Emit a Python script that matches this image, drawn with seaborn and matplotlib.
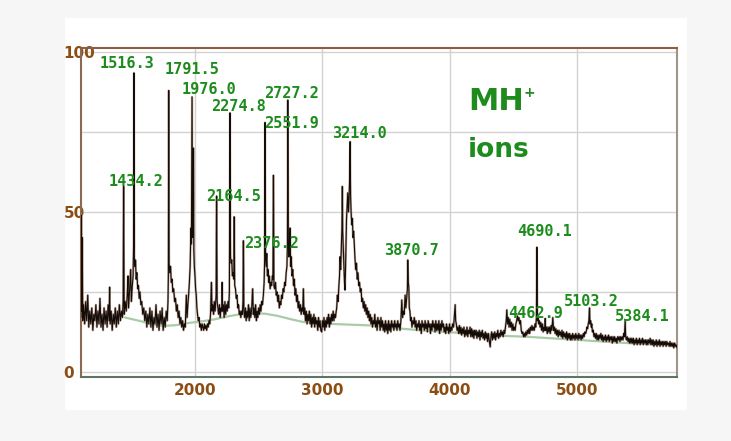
import matplotlib
matplotlib.use("Agg")
import matplotlib.pyplot as plt
from matplotlib.patches import Rectangle
import seaborn as sns
import pandas as pd

# ---------------- data ----------------
# (m/z, relative intensity) trace of the spectrum
spectrum = [
(1105,17),(1108,49),(1111,19),(1115,42),(1119,16),(1126,21),(1134,15),(1142,22),(1150,16),(1158,24),
(1166,14),(1174,19),(1182,15),(1190,20),(1198,13),(1206,18),(1214,16),(1222,21),(1230,14),(1238,19),
(1246,15),(1254,23),(1262,14),(1270,18),(1278,13),(1286,20),(1294,15),(1302,19),(1310,14),(1318,21),
(1326,16),(1330,26.5),(1334,15),(1342,19),(1350,13),(1358,18),(1366,15),(1374,20),(1382,14),(1390,19),
(1398,15),(1406,21),(1414,16),(1422,19),(1430,17),(1436,22),(1440,58),(1444,18),(1452,22),(1460,19),
(1468,24),(1474,30),(1478,20),(1486,25),(1495,32),(1500,22),(1508,27),(1514,30),(1518,40),(1521,93.5),
(1524,36),(1528,33),(1533,35),(1538,29),(1544,31),(1550,26),(1556,27),(1562,23),(1568,25),(1575,21),
(1582,22),(1590,18),(1598,20),(1606,16),(1614,19),(1622,14),(1630,18),(1638,15),(1646,20),(1654,14),
(1662,19),(1670,13),(1678,17),(1686,15),(1694,21),(1702,14),(1710,18),(1718,13),(1726,19),(1734,15),
(1742,20),(1750,13),(1758,17),(1766,14),(1774,19),(1782,16),(1788,22),(1791,30),(1794,88),(1797,34),
(1802,31),(1808,33),(1814,28),(1820,29),(1826,25),(1833,26),(1840,22),(1847,23),(1854,19),(1861,21),
(1868,17),(1875,19),(1882,15),(1889,17),(1896,14),(1903,16),(1910,13),(1917,15),(1924,14),(1932,24),
(1938,17),(1944,21),(1950,24),(1956,28),(1962,33),(1968,45),(1972,40),(1977,86),(1981,42),(1985,50),
(1988,70),(1991,38),(1995,33),(2000,30),(2005,26),(2010,24),(2015,20),(2020,18),(2026,16),(2032,17),
(2038,14),(2044,15),(2050,13),(2056,15),(2062,14),(2068,13),(2074,15),(2080,13.5),(2086,14.5),(2092,13),
(2098,15),(2104,14),(2110,16),(2116,15),(2122,18),(2129,28),(2134,19),(2140,21),(2146,18),(2152,22),
(2158,19),(2166,24),(2170,55),(2174,22),(2180,20),(2186,18),(2192,21),(2198,17),(2204,20),(2210,19),
(2213,28),(2217,19),(2223,21),(2229,17),(2235,22),(2241,18),(2247,21),(2253,19),(2259,22),(2265,20),
(2270,25),(2275,81),(2279,36),(2284,34),(2289,35),(2294,30),(2300,31),(2305,29),(2308,48.5),(2312,27),
(2318,26),(2324,23),(2330,24),(2336,20),(2342,21),(2348,18),(2354,19),(2360,17),(2366,19),(2372,18),
(2377,22),(2380,41),(2384,19),(2390,17),(2396,20),(2402,16),(2408,19),(2414,17),(2420,21),(2426,16),
(2432,20),(2438,17),(2444,19),(2453,26),(2458,18),(2464,20),(2470,17),(2476,21),(2482,16),(2488,19),
(2494,17),(2500,20),(2506,18),(2512,21),(2518,19),(2524,22),(2530,21),(2537,24),(2543,28),(2547,35),
(2550,78),(2554,36),(2559,33),(2564,37),(2569,30),(2574,32),(2579,28),(2584,30),(2590,26),(2596,28),
(2602,27),(2608,30),(2612,29),(2616,61.5),(2620,27),(2626,26),(2632,28),(2638,24),(2644,25),(2650,22),
(2656,24),(2662,20),(2668,22),(2674,21),(2680,24),(2686,23),(2692,26),(2698,25),(2704,28),(2710,27),
(2716,31),(2722,33),(2726,40),(2729,85),(2733,42),(2738,36),(2743,40),(2747,45),(2751,33),(2756,36),
(2762,30),(2768,32),(2774,27),(2780,29),(2786,24),(2792,26),(2798,22),(2804,24),(2810,20),(2816,22),
(2822,19),(2828,21),(2834,18),(2840,20),(2846,19),(2851,26),(2856,18),(2862,20),(2868,16),(2874,19),
(2880,15),(2886,18),(2892,16),(2898,19),(2904,15),(2910,18),(2916,14),(2922,17),(2928,15),(2934,18),
(2940,14),(2946,17),(2952,15),(2958,16),(2964,13),(2970,17),(2976,14),(2982,16),(2988,13),(2995,12.5),
(3001,16),(3007,14),(3013,17),(3019,13),(3025,16),(3031,14),(3037,17),(3043,15),(3049,18),(3055,14),
(3061,17),(3067,15),(3073,18),(3079,16),(3085,19),(3091,16),(3097,18),(3103,17),(3109,19),(3113,20),
(3118,24),(3124,22),(3130,27),(3135,30),(3139,36),(3144,32),(3150,40),(3154,45),(3157,58),(3160,44),
(3165,38),(3170,33),(3174,28),(3178,25.6),(3182,32),(3186,40),(3190,48),(3195,52),(3200,56),(3205,50),
(3210,54),(3214,60),(3218,72),(3222,55),(3226,50),(3231,46),(3236,48),(3241,42),(3246,44),(3251,40),
(3257,35),(3262,32),(3268,34),(3274,29),(3280,31),(3286,27),(3292,28),(3298,25),(3304,26),(3310,22),
(3316,23),(3322,20),(3328,22),(3334,19),(3340,21),(3346,18),(3352,20),(3358,17),(3364,19),(3370,16),
(3376,18),(3382,15),(3388,17),(3394,14),(3400,16),(3406,15),(3412,18),(3418,14),(3424,16),(3430,13),
(3436,17),(3442,15),(3448,16),(3454,13),(3460,17),(3466,14),(3472,16),(3478,13),(3484,15),(3490,12.5),
(3496,16),(3502,13),(3508,15),(3514,12),(3520,16),(3526,13),(3532,15),(3538,12.5),(3544,16),(3550,14),
(3556,15),(3562,13),(3568,16),(3574,14),(3580,15),(3586,13),(3592,16),(3598,14),(3604,15),(3610,13),
(3617,16),(3624,22.5),(3630,17),(3637,19),(3643,18),(3650,24),(3656,20),(3662,23),(3668,26),(3671,35),
(3675,28),(3679,26.6),(3683,20),(3688,19),(3693,16),(3698,17),(3704,14),(3710,16),(3716,15),(3722,17),
(3729,14),(3735,16),(3741,13),(3747,15),(3753,14),(3759,16),(3765,13),(3771,15),(3777,12),(3783,16),
(3789,14),(3795,15),(3801,13),(3807,16),(3813,13.5),(3819,15),(3825,12.5),(3831,16),(3837,14),(3843,15),
(3849,12),(3855,15),(3861,13),(3867,16),(3873,14),(3879,15),(3885,12.5),(3891,16),(3897,13),(3903,15),
(3909,13),(3915,16),(3921,12),(3927,15),(3933,13),(3939,16),(3945,14),(3951,15),(3957,12.5),(3963,14),
(3969,12),(3975,15),(3981,13),(3987,14),(3993,12),(3999,15),(4005,12.5),(4011,14),(4017,13),(4023,15),
(4030,14),(4036,17),(4043,21),(4047,16),(4052,15),(4058,13),(4064,14),(4070,12),(4076,14.5),(4082,12),
(4088,14),(4094,11.5),(4100,13.5),(4106,12),(4112,14),(4118,11),(4124,13),(4130,11.5),(4136,14),(4142,11),
(4148,13),(4154,12),(4160,14),(4166,11),(4172,13.5),(4178,11),(4184,13),(4190,10.5),(4196,13),(4202,11.5),
(4208,13),(4214,10.5),(4220,12.5),(4226,11),(4232,13),(4238,10),(4244,12.5),(4250,11),(4256,13),(4262,10.5),
(4268,12),(4274,10),(4280,12.5),(4286,10.5),(4292,12),(4298,9.5),(4304,12),(4310,10),(4318,7.8),(4324,11),
(4330,12.5),(4336,10),(4342,12),(4348,10.5),(4354,12.5),(4360,10),(4366,12),(4372,11),(4378,13),(4384,10.5),
(4390,12),(4396,11),(4402,13),(4408,11.5),(4414,12.5),(4420,11),(4426,13),(4432,12),(4438,14),(4444,16),
(4449,19.4),(4454,15),(4460,17),(4466,14),(4472,16.5),(4478,14),(4484,15.5),(4490,13),(4496,15),(4502,13),
(4508,14),(4514,13),(4520,15),(4526,16),(4532,17.5),(4538,16),(4544,17),(4550,15),(4556,16),(4562,13),
(4568,12),(4574,12.5),(4580,11),(4586,12),(4592,11),(4598,12.5),(4604,11.5),(4610,13),(4616,12),(4622,13.5),
(4628,12),(4634,14),(4640,13),(4646,14.5),(4652,13),(4658,14),(4664,13),(4670,15),(4676,14),(4681,17),
(4685,39),(4689,16),(4694,17),(4699,15),(4704,16),(4710,14),(4716,15.5),(4722,13),(4728,15),(4734,12.5),
(4740,14),(4746,13),(4750,16.7),(4754,13),(4760,14),(4766,12),(4772,14),(4778,12.5),(4784,14),(4790,12),
(4796,14.5),(4802,13),(4810,17),(4816,13),(4822,14),(4828,12),(4834,13.5),(4840,11.5),(4846,13),(4852,11),
(4858,13),(4864,11.5),(4870,12.5),(4876,11),(4882,13),(4888,10.5),(4894,12.5),(4900,11),(4906,12),(4912,10.5),
(4918,12.5),(4924,10),(4930,12),(4936,10.5),(4942,12),(4948,10),(4954,11.5),(4960,10),(4966,12),(4972,10.5),
(4978,11.5),(4984,10),(4990,12),(4996,10.5),(5002,11.5),(5008,10),(5014,12),(5020,10.5),(5026,11.5),(5032,10),
(5038,11.5),(5044,10.5),(5050,12),(5056,11),(5062,12.5),(5068,12),(5074,13),(5078,14),(5083,13.5),(5088,15),
(5093,16),(5098,20),(5102,15),(5107,16),(5112,14),(5116,15),(5121,12.5),(5127,13),(5133,11),(5139,12),
(5145,10.5),(5151,12),(5157,10),(5163,11.5),(5169,10),(5175,11.5),(5181,10.5),(5187,12),(5193,10),(5199,11.5),
(5205,9.5),(5211,11),(5217,10),(5223,11.5),(5229,9.5),(5235,11),(5241,10),(5247,11.5),(5253,9.5),(5259,11),
(5265,10),(5271,11),(5277,9),(5283,11),(5289,9.5),(5295,11),(5301,9.5),(5307,10.5),(5313,9),(5319,11),
(5325,10),(5331,11),(5337,9.5),(5343,11),(5349,10),(5355,11),(5361,10),(5367,12),(5372,11),(5378,16),
(5382,11),(5388,10),(5394,11),(5400,9.5),(5406,10.5),(5412,9),(5418,10.5),(5424,9),(5430,10.5),(5436,9),
(5442,10.5),(5448,8.5),(5454,10),(5460,9),(5466,10.5),(5472,8.5),(5478,10),(5484,9),(5490,10.5),(5496,8.5),
(5502,10),(5508,9),(5514,10.5),(5520,8.5),(5526,10),(5532,9),(5538,10),(5544,8.5),(5550,10),(5556,8.5),
(5562,10),(5568,9),(5574,10.5),(5580,8.5),(5586,10),(5592,8.5),(5598,10),(5604,8),(5610,9.5),(5616,8.5),
(5622,10),(5628,8),(5634,9.5),(5640,8.5),(5646,10),(5652,8),(5658,9.5),(5664,8.5),(5670,9.5),(5676,8),
(5682,9.5),(5688,8.5),(5694,9.5),(5700,8),(5706,9.5),(5712,8.5),(5718,9),(5724,8),(5730,9.5),(5736,8),
(5742,9),(5748,8),(5754,9),(5760,7.5),(5766,9),(5772,8),(5778,8.5),(5785,7.5),
]

# fitted baseline (light green curve)
baseline_mz = [1450, 1560, 1650, 1750, 1850, 1950, 2050, 2150, 2250, 2350, 2450, 2550,
               2650, 2750, 2850, 3000, 3200, 3400, 3600, 3800, 4000, 4200, 4400, 4600,
               4800, 5000, 5200, 5400, 5600, 5785]
baseline_int = [17.0, 16.0, 15.0, 14.4, 14.6, 15.3, 15.8, 16.4, 17.3, 18.0, 18.4, 18.2,
                17.5, 16.5, 15.6, 15.1, 14.8, 14.5, 13.6, 12.9, 12.4, 11.9, 11.3, 11.0,
                10.5, 10.0, 9.5, 9.0, 8.6, 8.2]

# peak labels and where they sit (data coordinates)
peak_labels = ["1516.3", "1791.5", "1976.0", "2274.8", "2727.2", "2551.9", "3214.0",
               "1434.2", "2164.5", "2376.2", "3870.7", "4690.1", "4462.9", "5103.2", "5384.1"]
label_mz = [1470, 1977, 2110, 2338, 2755, 2755, 3289,
            1537, 2299, 2597, 3697, 4742, 4671, 5111, 5512]
label_int = [96.3, 94.7, 88.4, 83.1, 87.2, 77.8, 74.7,
             59.7, 54.7, 40.3, 38.1, 43.8, 18.4, 21.9, 17.2]

x_ticks = [2000, 3000, 4000, 5000]
y_ticks = [0, 50, 100]

# ---------------- styling ----------------
GREEN = "#1d8c1d"
BROWN = "#8a4e14"

sns.set_style("white")
plt.rcParams["font.family"] = ["DejaVu Sans"]

fig = plt.figure(figsize=(7.31, 4.41), dpi=100)
fig.patch.set_facecolor("#f6f6f6")
fig.patches.append(Rectangle((65 / 731, 1 - 410 / 441), (687 - 65) / 731, (410 - 18) / 441,
                             transform=fig.transFigure, facecolor="white",
                             edgecolor="none", zorder=-10))

ax = fig.add_axes([81 / 731, 1 - 377 / 441, 596 / 731, 329 / 441])
ax.set_zorder(5)
ax.set_facecolor("white")

spec_df = pd.DataFrame({"mz": [p[0] for p in spectrum],
                        "intensity": [p[1] for p in spectrum]})
base_df = pd.DataFrame({"mz": baseline_mz, "intensity": baseline_int})

sns.lineplot(data=base_df, x="mz", y="intensity", ax=ax, color="#a8cca8",
             linewidth=1.6, estimator=None, sort=False, zorder=2)
sns.lineplot(data=spec_df, x="mz", y="intensity", ax=ax, color="#b39886",
             linewidth=1.6, estimator=None, sort=False, zorder=3, alpha=0.8)
sns.lineplot(data=spec_df, x="mz", y="intensity", ax=ax, color="#140c08",
             linewidth=0.8, estimator=None, sort=False, zorder=4)

ax.set_xlim(1105, 5785)
ax.set_ylim(-1.6, 101.3)

ax.set_xticks(x_ticks)
ax.set_yticks(y_ticks)
ax.set_yticks([25, 75], minor=True)
ax.grid(True, which="both", color="#d2d2d2", linewidth=1.0, zorder=1)
ax.set_axisbelow(True)

ax.tick_params(axis="both", which="both", length=0)
ax.tick_params(axis="x", pad=4.5)
ax.tick_params(axis="y", pad=12.5)
for lab in ax.get_xticklabels() + ax.get_yticklabels():
    lab.set_color(BROWN)
    lab.set_fontweight("bold")
    lab.set_fontsize(11)
for lab in ax.get_yticklabels():
    lab.set_horizontalalignment("left")

ax.set_xlabel("")
ax.set_ylabel("")

ax.spines["top"].set_color("#8c5e44")
ax.spines["left"].set_color("#8c6a52")
ax.spines["right"].set_color("#a09488")
ax.spines["bottom"].set_color("#5e7464")
for s in ax.spines.values():
    s.set_linewidth(1.5)
    s.set_visible(True)

for txt, xm, yi in zip(peak_labels, label_mz, label_int):
    ax.text(xm, yi, txt, ha="center", va="center", color=GREEN,
            family="DejaVu Sans Mono", fontweight="bold", fontsize=11, zorder=6)

ax.text(0.649, 0.812, "MH", transform=ax.transAxes, ha="left", va="baseline",
        color=GREEN, fontweight="bold", fontsize=22, zorder=6)
ax.text(0.742, 0.862, "+", transform=ax.transAxes, ha="left", va="center",
        color=GREEN, fontweight="bold", fontsize=10, zorder=6)
ax.text(0.649, 0.669, "ions", transform=ax.transAxes, ha="left", va="baseline",
        color=GREEN, fontweight="bold", fontsize=19, zorder=6)

fig.savefig("out.png", dpi=100, facecolor=fig.get_facecolor())
